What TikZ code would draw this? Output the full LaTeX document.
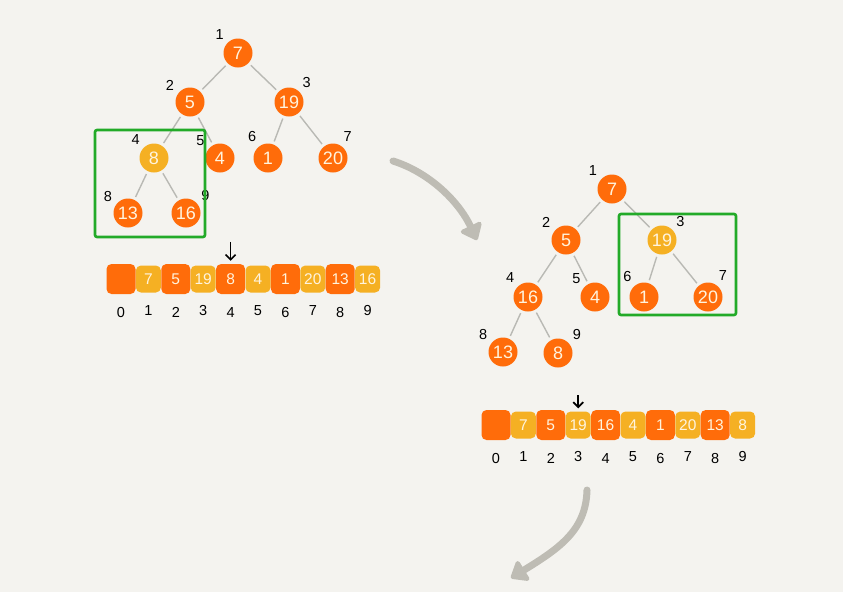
\documentclass[tikz,border=0pt]{standalone}
\usepackage{fontspec}
\setmainfont{Liberation Sans}
\usetikzlibrary{arrows.meta,positioning,calc}
\definecolor{paper}{RGB}{244,243,239}
\definecolor{heaporange}{RGB}{255,108,10}
\definecolor{heapyellow}{RGB}{245,176,35}
\definecolor{chalk}{RGB}{255,244,222}
\definecolor{boxgreen}{RGB}{34,170,40}
\definecolor{linkgray}{RGB}{185,185,180}
\definecolor{arrowgray}{RGB}{190,188,180}

\begin{document}
\begin{tikzpicture}[
  x=1pt, y=-1pt,
  node distance=0pt,
  heap/.style={circle, fill=heaporange, minimum size=29pt, inner sep=0pt, text=chalk, font=\fontsize{18}{18}\selectfont},
  hot/.style={heap, fill=heapyellow},
  tag/.style={inner sep=3.5pt, font=\fontsize{14.5}{14.5}\selectfont},
  link/.style={draw=linkgray, line width=1.4pt, shorten <=3pt, shorten >=3pt},
  ocell/.style={rectangle, rounded corners=5pt, fill=heaporange, minimum width=29pt, minimum height=30pt, inner sep=0pt, text=chalk, font=\fontsize{15.5}{15.5}\selectfont},
  ycell/.style={ocell, fill=heapyellow, minimum width=25pt, minimum height=27pt},
  idx/.style={inner xsep=0pt, inner ysep=12pt, text height=11pt, text depth=0pt, font=\fontsize{14.5}{14.5}\selectfont},
  greenbox/.style={draw=boxgreen, line width=2.6pt, rounded corners=2pt},
  ptr/.style={-{Straight Barb[length=5pt,width=10pt]}, line width=1.7pt, shorten >=3pt},
  flow/.style={draw=arrowgray, line width=7pt, line cap=round, -{Triangle[round,length=17pt,width=26pt]}}
]
  \fill[paper] (0,0) rectangle (843,592);
  \useasboundingbox (0,0) rectangle (843,592);

  % --- 1. HEAP BEFORE (left) ---
  \node[heap, label={[tag]136:1}] (a1) at (238,53) {7};
  \node[heap, label={[tag]147:2}] (a2) at (190,102) {5};
  \node[heap, label={[tag]47:3}] (a3) at (289,102) {19};
  \node[hot, label={[tag]136:4}] (a4) at (154,158) {8};
  \node[heap, label={[tag]143:5}] (a5) at (220,158) {4};
  \node[heap, label={[tag]123:6}] (a6) at (268,158) {1};
  \node[heap, label={[tag]62:7}] (a7) at (333,158) {20};
  \node[heap, label={[tag]148:8}] (a8) at (128,213) {13};
  \node[heap, label={[tag]38:9}] (a9) at (186,213) {16};

  \draw[link] (a1) -- (a2);
  \draw[link] (a1) -- (a3);
  \draw[link] (a2) -- (a4);
  \draw[link] (a2) -- (a5);
  \draw[link] (a3) -- (a6);
  \draw[link] (a3) -- (a7);
  \draw[link] (a4) -- (a8);
  \draw[link] (a4) -- (a9);

  % subtree being heapified
  \draw[greenbox] (95,130) rectangle (205,237);

  % array view
  \node[ocell, label={[idx]below:0}] (p0) at (121,279) {};
  \node[ycell, right=of p0, label={[idx]below:1}] (p1) {7};
  \node[ocell, right=of p1, label={[idx]below:2}] (p2) {5};
  \node[ycell, right=of p2, label={[idx]below:3}] (p3) {19};
  \node[ocell, right=of p3, label={[idx]below:4}] (p4) {8};
  \node[ycell, right=of p4, label={[idx]below:5}] (p5) {4};
  \node[ocell, right=of p5, label={[idx]below:6}] (p6) {1};
  \node[ycell, right=of p6, label={[idx]below:7}] (p7) {20};
  \node[ocell, right=of p7, label={[idx]below:8}] (p8) {13};
  \node[ycell, right=of p8, label={[idx]below:9}] (p9) {16};

  \coordinate[above=22pt of p4] (p4ptr);
  \draw[ptr] (p4ptr) -- (p4.north);

  % --- 2. HEAP AFTER (right) ---
  \node[heap, label={[tag]140:1}] (b1) at (612,189) {7};
  \node[heap, label={[tag]145:2}] (b2) at (566,240) {5};
  \node[hot, label={[tag]43:3}] (b3) at (662,240) {19};
  \node[heap, label={[tag]133:4}] (b4) at (528,297) {16};
  \node[heap, label={[tag]138:5}] (b5) at (595,297) {4};
  \node[heap, label={[tag]127:6}] (b6) at (644,297) {1};
  \node[heap, label={[tag]61:7}] (b7) at (708,297) {20};
  \node[heap, label={[tag]145:8}] (b8) at (503,352) {13};
  \node[heap, label={[tag]41:9}] (b9) at (558,353) {8};

  \draw[link] (b1) -- (b2);
  \draw[link] (b1) -- (b3);
  \draw[link] (b2) -- (b4);
  \draw[link] (b2) -- (b5);
  \draw[link] (b3) -- (b6);
  \draw[link] (b3) -- (b7);
  \draw[link] (b4) -- (b8);
  \draw[link] (b4) -- (b9);

  \draw[greenbox] (619,214) rectangle (736,315);

  \node[ocell, label={[idx]below:0}] (q0) at (496,425) {};
  \node[ycell, right=of q0, label={[idx]below:1}] (q1) {7};
  \node[ocell, right=of q1, label={[idx]below:2}] (q2) {5};
  \node[ycell, right=of q2, label={[idx]below:3}] (q3) {19};
  \node[ocell, right=of q3, label={[idx]below:4}] (q4) {16};
  \node[ycell, right=of q4, label={[idx]below:5}] (q5) {4};
  \node[ocell, right=of q5, label={[idx]below:6}] (q6) {1};
  \node[ycell, right=of q6, label={[idx]below:7}] (q7) {20};
  \node[ocell, right=of q7, label={[idx]below:8}] (q8) {13};
  \node[ycell, right=of q8, label={[idx]below:9}] (q9) {8};

  \coordinate[above=16pt of q3] (q3ptr);
  \draw[ptr] (q3ptr) -- (q3.north);

  % --- 3. STEP ARROWS ---
  \coordinate (s1) at (393,161);
  \coordinate (e1) at (477,240);
  \draw[flow] (s1) .. controls (428,172) and (458,200) .. (e1);
  \coordinate (s2) at (587,490);
  \coordinate (e2) at (511,578);
  \draw[flow] (s2) .. controls (586,530) and (560,548) .. (e2);

\end{tikzpicture}
\end{document}
